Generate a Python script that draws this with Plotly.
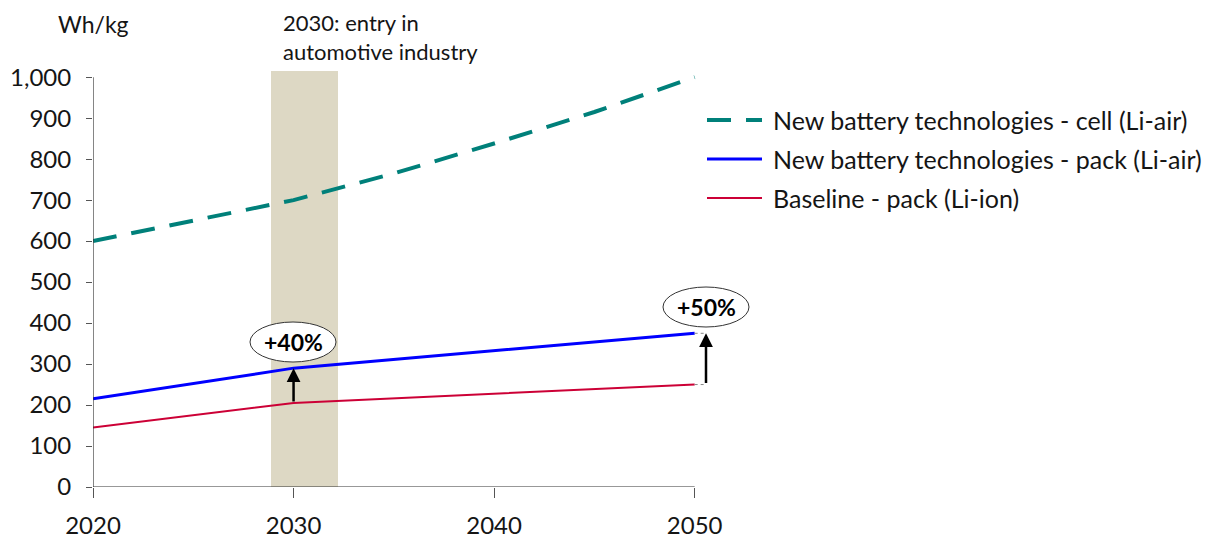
import plotly.graph_objects as go

# Energy density outlook, Wh/kg
years_cell = [2020, 2025, 2030, 2035, 2040, 2045, 2050]
cell_li_air = [600, 650, 700, 765, 838, 915, 1000]

years_pack = [2020, 2030, 2050]
pack_li_air = [215, 290, 375]
pack_li_ion = [145, 205, 250]

x_ticks = [2020, 2030, 2040, 2050]
y_ticks = list(range(0, 1001, 100))

series_names = [
    "New battery technologies - cell (Li-air)",
    "New battery technologies - pack (Li-air)",
    "Baseline - pack (Li-ion)",
]
gain_labels = ["+40%", "+50%"]
entry_label = "2030: entry in<br>automotive industry"
unit_label = "Wh/kg"

TEAL = "#00807A"
BLUE = "#0000FF"
RED = "#CC0036"
BAND = "#DDD8C4"
INK = "#151515"
FONT = "Lato"

# plot geometry (pixels)
W, H = 1210, 540
L, R, T, B = 93, 395, 71, 53
X_RANGE = [2020, 2056]
Y_RANGE = [0, 1015]
pw = W - L - R
ph = H - T - B


def px(xp, yp):
    """pixel position -> data coordinates"""
    x = X_RANGE[0] + (xp - L) / pw * (X_RANGE[1] - X_RANGE[0])
    y = Y_RANGE[0] + (H - B - yp) / ph * (Y_RANGE[1] - Y_RANGE[0])
    return x, y


def ppx(xp, yp):
    """pixel position -> paper coordinates"""
    return (xp - L) / pw, (H - B - yp) / ph


fig = go.Figure()

line_styles = [
    dict(color=TEAL, width=4, dash="24px,15px"),
    dict(color=BLUE, width=3),
    dict(color=RED, width=2),
]

fig.add_trace(go.Scatter(x=years_cell, y=cell_li_air, mode="lines",
                         line=line_styles[0], name=series_names[0],
                         showlegend=False))
fig.add_trace(go.Scatter(x=years_pack, y=pack_li_air, mode="lines",
                         line=line_styles[1], name=series_names[1],
                         showlegend=False))
fig.add_trace(go.Scatter(x=years_pack, y=pack_li_ion, mode="lines",
                         line=line_styles[2], name=series_names[2],
                         showlegend=False))

shapes = []
annotations = []

# 2030 entry band
bx0, _ = px(271, 0)
bx1, _ = px(338, 0)
shapes.append(dict(type="rect", xref="x", yref="y", x0=bx0, x1=bx1,
                   y0=0, y1=Y_RANGE[1], fillcolor=BAND, line_width=0,
                   layer="below"))

# axis lines limited to the labelled span
shapes.append(dict(type="line", xref="x", yref="y", x0=x_ticks[0], x1=x_ticks[-1],
                   y0=0, y1=0, line=dict(color="#333", width=1.2), layer="above"))
shapes.append(dict(type="line", xref="x", yref="y", x0=x_ticks[0], x1=x_ticks[0],
                   y0=0, y1=y_ticks[-1], line=dict(color="#333", width=1.2),
                   layer="above"))

# uplift arrows between baseline and Li-air pack
arrow_x = [2030, px(706, 0)[0]]
arrow_lo = [pack_li_ion[1], pack_li_ion[2]]
arrow_hi = [pack_li_air[1], pack_li_air[2]]
for ax_, lo, hi in zip(arrow_x, arrow_lo, arrow_hi):
    annotations.append(dict(x=ax_, y=hi, ax=ax_, ay=lo, xref="x", yref="y",
                            axref="x", ayref="y", showarrow=True, arrowhead=2,
                            arrowsize=1.1, arrowwidth=2.5, arrowcolor="#000",
                            standoff=0, startstandoff=0, text=""))

# short dotted connectors at the 2050 line ends
for v in (pack_li_air[2], pack_li_ion[2]):
    shapes.append(dict(type="line", xref="x", yref="y", x0=2050, x1=arrow_x[1],
                       y0=v, y1=v, line=dict(color="#888", width=1, dash="dot")))

# percentage bubbles
bubble_centres = [px(293, 342), px(706, 307)]
hw = 43 / pw * (X_RANGE[1] - X_RANGE[0])
hh = 20 / ph * (Y_RANGE[1] - Y_RANGE[0])
for (cx, cy), txt in zip(bubble_centres, gain_labels):
    shapes.append(dict(type="circle", xref="x", yref="y", x0=cx - hw, x1=cx + hw,
                       y0=cy - hh, y1=cy + hh, fillcolor="white",
                       line=dict(color="#333", width=1), layer="above"))
    annotations.append(dict(x=cx, y=cy, xref="x", yref="y", text=f"<b>{txt}</b>",
                            showarrow=False, font=dict(family=FONT, size=23, color="#000")))

# unit label and band caption
ux, uy = ppx(93, 24)
annotations.append(dict(x=ux, y=uy, xref="paper", yref="paper", text=unit_label,
                        showarrow=False, xanchor="center", yanchor="middle",
                        font=dict(family=FONT, size=23, color=INK)))
ex, ey = ppx(281, 37)
annotations.append(dict(x=ex, y=ey, xref="paper", yref="paper", text=entry_label,
                        showarrow=False, xanchor="left", yanchor="middle", align="left",
                        font=dict(family=FONT, size=22, color=INK)))

# legend drawn beside the plot
rows_y = [120, 159, 198]
for name, style, ry in zip(series_names, line_styles, rows_y):
    lx0, ly = ppx(707, ry)
    lx1, _ = ppx(762, ry)
    shapes.append(dict(type="line", xref="paper", yref="paper", x0=lx0, x1=lx1,
                       y0=ly, y1=ly, line=style))
    tx, _ = ppx(771, ry)
    annotations.append(dict(x=tx, y=ly, xref="paper", yref="paper", text=name,
                            showarrow=False, xanchor="left", yanchor="middle",
                            font=dict(family=FONT, size=25, color=INK)))

fig.update_layout(
    width=W, height=H,
    margin=dict(l=L, r=R, t=T, b=B, pad=0, autoexpand=False),
    plot_bgcolor="white", paper_bgcolor="white",
    font=dict(family=FONT, size=23, color=INK),
    shapes=shapes, annotations=annotations,
    showlegend=False,
    xaxis=dict(range=X_RANGE, tickvals=x_ticks, ticks="outside", ticklen=10,
               tickwidth=1.2, tickcolor="#555", showline=False, showgrid=False,
               zeroline=False, ticklabelstandoff=7, automargin=False,
               tickfont=dict(family=FONT, size=24, color=INK)),
    yaxis=dict(range=Y_RANGE, tickvals=y_ticks, tickformat=",d", ticks="outside",
               ticklen=6, tickwidth=1.2, tickcolor="#555", showline=False,
               showgrid=False, zeroline=False, ticklabelstandoff=10, automargin=False,
               tickfont=dict(family=FONT, size=24, color=INK)),
)

fig.write_html("out.html")
